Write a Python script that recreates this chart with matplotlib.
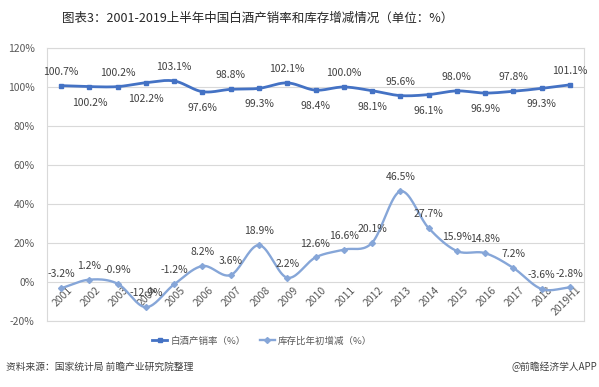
import numpy as np
import matplotlib
matplotlib.use("Agg")
import matplotlib.pyplot as plt
import matplotlib.transforms as mtransforms
from matplotlib.lines import Line2D

plt.rcParams['font.family'] = ['Noto Sans CJK SC', 'DejaVu Sans']

categories = ['2001', '2002', '2003', '2004', '2005', '2006', '2007', '2008', '2009', '2010',
              '2011', '2012', '2013', '2014', '2015', '2016', '2017', '2018', '2019H1']
sales_rate = [100.7, 100.2, 100.2, 102.2, 103.1, 97.6, 98.8, 99.3, 102.1, 98.4,
              100.0, 98.1, 95.6, 96.1, 98.0, 96.9, 97.8, 99.3, 101.1]
inventory_change = [-3.2, 1.2, -0.9, -12.9, -1.2, 8.2, 3.6, 18.9, 2.2, 12.6,
                    16.6, 20.1, 46.5, 27.7, 15.9, 14.8, 7.2, -3.6, -2.8]
yticks = [-20, 0, 20, 40, 60, 80, 100, 120]
series_names = ['白酒产销率（%）', '库存比年初增减（%）']
title = '图表3：2001-2019上半年中国白酒产销率和库存增减情况（单位：%）'
source = '资料来源：国家统计局 前瞻产业研究院整理'
credit = '@前瞻经济学人APP'

C1 = '#4472C4'
C2 = '#86A6D8'
GRID = '#d9d9d9'
TXT = '#595959'


def smooth(x, y, n=20):
    x = np.asarray(x, float)
    y = np.asarray(y, float)
    px = np.concatenate([[2 * x[0] - x[1]], x, [2 * x[-1] - x[-2]]])
    py = np.concatenate([[2 * y[0] - y[1]], y, [2 * y[-1] - y[-2]]])
    xs, ys = [], []
    t = np.linspace(0, 1, n, endpoint=False)
    for i in range(1, len(px) - 2):
        def cr(a0, a1, a2, a3):
            return 0.5 * ((2 * a1) + (-a0 + a2) * t + (2 * a0 - 5 * a1 + 4 * a2 - a3) * t ** 2
                          + (-a0 + 3 * a1 - 3 * a2 + a3) * t ** 3)
        xs.append(cr(px[i - 1], px[i], px[i + 1], px[i + 2]))
        ys.append(cr(py[i - 1], py[i], py[i + 1], py[i + 2]))
    xs.append([x[-1]])
    ys.append([y[-1]])
    return np.concatenate(xs), np.concatenate(ys)


fig = plt.figure(figsize=(5.99, 3.87), dpi=100)
ax = fig.add_axes([47 / 599, 1 - 321 / 387, (584 - 47) / 599, (321 - 48) / 387])

x = np.arange(len(categories))
ax.set_xlim(-0.5, len(categories) - 0.5)
ax.set_ylim(-20, 120)
ax.set_yticks(yticks)
ax.set_yticklabels([f'{v}%' for v in yticks], fontsize=7.5, color=TXT)
ax.yaxis.grid(True, color=GRID, linewidth=0.8)
ax.set_axisbelow(True)
ax.tick_params(axis='y', length=0, pad=9)
for s in ['left', 'right', 'top', 'bottom']:
    ax.spines[s].set_color(GRID)
    ax.spines[s].set_linewidth(0.8)
ax.set_xticks([])

# category labels next to the axis crossing at 0
off = mtransforms.ScaledTranslation(6 / 100, -3 / 100, fig.dpi_scale_trans)
trans = ax.transData + off
for i, c in enumerate(categories):
    ax.text(i, 0, c, transform=trans, rotation=45, ha='right', va='top',
            rotation_mode='anchor', fontsize=7.5, color=TXT)

sx, sy = smooth(x, sales_rate)
ax.plot(sx, sy, color=C1, linewidth=2.0, zorder=3)
ax.plot(x, sales_rate, linestyle='none', marker='s', markersize=3.5, color=C1, zorder=4)

ix, iy = smooth(x, inventory_change)
ax.plot(ix, iy, color=C2, linewidth=1.7, zorder=3)
ax.plot(x, inventory_change, linestyle='none', marker='D', markersize=3, color=C2, zorder=4)

for i, v in enumerate(sales_rate):
    dy = 10 if i % 2 == 0 else -11.5
    ax.annotate(f'{v:.1f}%', (i, v), xytext=(0, dy), textcoords='offset points',
                ha='center', va='center', fontsize=7.5, color='#404040')
for i, v in enumerate(inventory_change):
    ax.annotate(f'{v:.1f}%', (i, v), xytext=(0, 10), textcoords='offset points',
                ha='center', va='center', fontsize=7.5, color='#404040')

# legend
h1 = Line2D([], [], color=C1, linewidth=2.0, marker='s', markersize=3.5)
h2 = Line2D([], [], color=C2, linewidth=1.7, marker='D', markersize=3)
fig.legend([h1, h2], series_names, loc='center', bbox_to_anchor=(262 / 599, 1 - 341 / 387),
           ncol=2, frameon=False, fontsize=6.8, labelcolor=TXT, handlelength=1.6,
           handletextpad=0.3, columnspacing=1.5)

fig.text(258 / 599, 1 - 18 / 387, title, ha='center', va='center', fontsize=9, color='#262626')
fig.text(6 / 599, 1 - 367 / 387, source, ha='left', va='center', fontsize=7, color='#404040',
         style='italic')
fig.text(597 / 599, 1 - 367 / 387, credit, ha='right', va='center', fontsize=7, color='#404040')

fig.savefig('out.png', dpi=100)
